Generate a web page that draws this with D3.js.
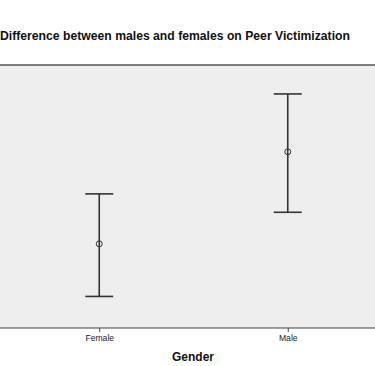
<!DOCTYPE html>
<html><head><meta charset="utf-8">
<script src="https://cdn.jsdelivr.net/npm/d3@7"></script>
<style>body{margin:0;background:#fff}svg{display:block}</style>
</head><body>
<script>
const categories = ["Female", "Male"];
const means = [1.32, 1.67];
const lower = [1.12, 1.44];
const upper = [1.51, 1.89];
const title = "Difference between males and females on Peer Victimization";
const xTitle = "Gender";

const W = 375, H = 366;
const plot = {left: 0, right: 375, top: 65, bottom: 328};
const svg = d3.select("body").append("svg").attr("width", W).attr("height", H);

svg.append("rect").attr("x", plot.left).attr("y", plot.top)
  .attr("width", plot.right - plot.left).attr("height", plot.bottom - plot.top)
  .attr("fill", "#eeeeee");
svg.append("line").attr("x1", plot.left).attr("x2", plot.right)
  .attr("y1", plot.top).attr("y2", plot.top).attr("stroke", "#555").attr("stroke-width", 1.5);

const x = d3.scalePoint().domain(categories).range([5, 382]).padding(0.5);
const y = d3.scaleLinear().domain([1.0, 2.0]).range([plot.bottom, plot.top]);

const xAxis = svg.append("g").attr("transform", `translate(0,${plot.bottom})`)
  .call(d3.axisBottom(x).tickSize(4).tickSizeOuter(0));
xAxis.select(".domain").attr("stroke", "#444").attr("stroke-width", 1.2).attr("d", `M${plot.left},0H${plot.right}`);
xAxis.selectAll(".tick line").attr("stroke", "#444");
xAxis.selectAll(".tick text").attr("font-family", "Arial, Liberation Sans, sans-serif")
  .attr("font-size", 8.6).attr("fill", "#222").attr("dy", "0.9em").attr("y", 5);

svg.append("text").attr("x", 0).attr("y", 40)
  .attr("font-family", "Arial, Liberation Sans, sans-serif").attr("font-size", 12.2)
  .attr("font-weight", "bold").attr("fill", "#111").text(title);

svg.append("text").attr("x", 193).attr("y", 361).attr("text-anchor", "middle")
  .attr("font-family", "Arial, Liberation Sans, sans-serif").attr("font-size", 12)
  .attr("font-weight", "bold").attr("fill", "#111").text(xTitle);

const data = categories.map((c, i) => ({c, m: means[i], lo: lower[i], hi: upper[i]}));
const capW = 14;
const g = svg.append("g").attr("stroke", "#333").attr("stroke-width", 1.6).attr("fill", "none");
data.forEach(d => {
  const cx = x(d.c);
  g.append("line").attr("x1", cx).attr("x2", cx).attr("y1", y(d.hi)).attr("y2", y(d.lo));
  g.append("line").attr("x1", cx - capW).attr("x2", cx + capW).attr("y1", y(d.hi)).attr("y2", y(d.hi));
  g.append("line").attr("x1", cx - capW).attr("x2", cx + capW).attr("y1", y(d.lo)).attr("y2", y(d.lo));
  g.append("circle").attr("cx", cx).attr("cy", y(d.m)).attr("r", 3).attr("stroke-width", 1);
});
</script>
</body></html>
